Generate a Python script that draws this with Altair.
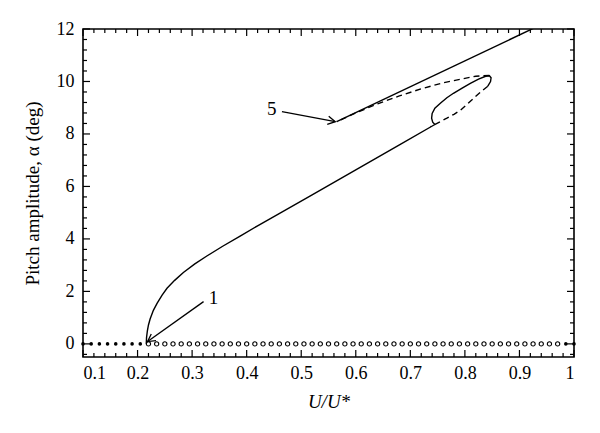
import altair as alt
import pandas as pd

# ---------------- data ----------------
# stable branch rising from the bifurcation point (solid)
main_x = [0.216, 0.2165, 0.218, 0.220, 0.223, 0.229, 0.236, 0.245, 0.254, 0.268,
          0.284, 0.305, 0.327, 0.356, 0.388, 0.420, 0.462, 0.52, 0.60, 0.68, 0.745]
main_y = [0.0, 0.25, 0.5, 0.72, 0.95, 1.28, 1.55, 1.86, 2.12, 2.42,
          2.72, 3.05, 3.35, 3.72, 4.11, 4.5, 4.99, 5.68, 6.63, 7.58, 8.36]

# closed loop near U/U* = 0.74-0.85 : solid part
loop_s_x = [0.745, 0.741, 0.739, 0.740, 0.745, 0.755, 0.767, 0.779, 0.795, 0.81,
            0.825, 0.838, 0.845, 0.848, 0.847, 0.842]
loop_s_y = [8.36, 8.45, 8.6, 8.78, 8.98, 9.17, 9.38, 9.55, 9.75, 9.93,
            10.09, 10.2, 10.22, 10.14, 10.0, 9.82]
# closed loop : dashed part
loop_d_x = [0.842, 0.83, 0.819, 0.805, 0.792, 0.78, 0.767, 0.755, 0.743, 0.737]
loop_d_y = [9.82, 9.62, 9.42, 9.15, 8.91, 8.75, 8.6, 8.47, 8.34, 8.28]

# upper unstable branch (dashed)
upper_d_x = [0.845, 0.82, 0.80, 0.76, 0.72, 0.68, 0.64, 0.60, 0.565]
upper_d_y = [10.23, 10.2, 10.12, 9.95, 9.72, 9.45, 9.15, 8.8, 8.47]

# upper stable branch (solid)
upper_s_x = [0.565, 0.93]
upper_s_y = [8.47, 12.07]

# trivial equilibrium at alpha = 0 : stable (filled) / unstable (open)
stable0_x = [0.1, 0.115, 0.13, 0.145, 0.16, 0.175, 0.19, 0.205, 0.985, 1.0]
unstable0_x = [0.22, 0.235, 0.25, 0.265, 0.28, 0.295, 0.31, 0.325, 0.34, 0.355,
               0.37, 0.385, 0.4, 0.415, 0.43, 0.445, 0.46, 0.475, 0.49, 0.505,
               0.52, 0.535, 0.55, 0.565, 0.58, 0.595, 0.61, 0.625, 0.64, 0.655,
               0.67, 0.685, 0.7, 0.715, 0.73, 0.745, 0.76, 0.775, 0.79, 0.805,
               0.82, 0.835, 0.85, 0.865, 0.88, 0.895, 0.91, 0.925, 0.94, 0.955,
               0.97]

# annotations
label_text = ["1", "5"]
label_x = [0.339, 0.446]
label_y = [1.74, 8.94]
arrow_x0 = [0.321, 0.4647]
arrow_y0 = [1.61, 8.85]
arrow_x1 = [0.2184, 0.5624]
arrow_y1 = [0.088, 8.47]
arrow_angle = [144.5, 10.6]

# axis ticks
x_major = [0.1, 0.2, 0.3, 0.4, 0.5, 0.6, 0.7, 0.8, 0.9, 1.0]
y_major = [0, 2, 4, 6, 8, 10, 12]
x_minor = [round(0.1 + 0.02 * i, 2) for i in range(46) if i % 5 != 0]
y_minor = [round(-0.4 + 0.4 * i, 1) for i in range(31) if (i - 1) % 5 != 0]

# ---------------- chart ----------------
W, H = 491, 328
FONT = "Liberation Serif"

xscale = alt.Scale(domain=[0.1, 1.0], nice=False, zero=False)
yscale = alt.Scale(domain=[-0.5, 12], nice=False, zero=False)

x_axis = alt.Axis(values=x_major, format="~g", title="U/U*", grid=False, ticks=False,
                  domain=False, labelFont=FONT, labelFontSize=18, labelPadding=7,
                  labelColor="black", titleFont=FONT, titleFontSize=19,
                  titleFontStyle="italic", titleFontWeight="normal", titleColor="black",
                  titlePadding=10)
y_axis = alt.Axis(values=y_major, format="d", title="Pitch amplitude, α (deg)", grid=False,
                  ticks=False, domain=False, labelFont=FONT, labelFontSize=18,
                  labelPadding=9, labelColor="black", titleFont=FONT, titleFontSize=19,
                  titleFontWeight="normal", titleColor="black", titlePadding=14)


def X(field):
    return alt.X(field, scale=xscale, axis=x_axis)


def Y(field):
    return alt.Y(field, scale=yscale, axis=y_axis)


def seq(xs, ys):
    return pd.DataFrame({"x": xs, "y": ys, "i": list(range(len(xs)))})


def line(xs, ys, dash=None):
    kw = dict(color="black", strokeWidth=1.4, clip=True)
    if dash:
        kw["strokeDash"] = dash
    return alt.Chart(seq(xs, ys)).mark_line(**kw).encode(
        x=X("x:Q"), y=Y("y:Q"), order="i:Q")


layers = [
    line(main_x, main_y),
    line(loop_s_x, loop_s_y),
    line(loop_d_x, loop_d_y, dash=[6, 4]),
    line(upper_d_x, upper_d_y, dash=[6, 4]),
    line(upper_s_x, upper_s_y),
]

zero_open = alt.Chart(pd.DataFrame({"x": unstable0_x, "y": [0] * len(unstable0_x)})).mark_point(
    shape="circle", filled=False, color="black", size=18, strokeWidth=1.1, opacity=1
).encode(x=X("x:Q"), y=Y("y:Q"))
zero_fill = alt.Chart(pd.DataFrame({"x": stable0_x, "y": [0] * len(stable0_x)})).mark_circle(
    color="black", size=13, opacity=1
).encode(x=X("x:Q"), y=Y("y:Q"))
layers += [zero_open, zero_fill]

# arrows
arr = pd.DataFrame({"x0": arrow_x0, "y0": arrow_y0, "x1": arrow_x1, "y1": arrow_y1,
                    "ang": arrow_angle, "t": label_text, "lx": label_x, "ly": label_y})
shafts = alt.Chart(arr).mark_rule(color="black", strokeWidth=1.3).encode(
    x=X("x0:Q"), y=Y("y0:Q"), x2="x1:Q", y2="y1:Q")
heads = alt.Chart(arr).mark_point(
    shape="M -1 -0.55 L 0 0 L -1 0.55", filled=False, color="black", strokeWidth=1.3,
    size=220, opacity=1
).encode(x=X("x1:Q"), y=Y("y1:Q"), angle=alt.Angle("ang:Q", scale=None))
labels = alt.Chart(arr).mark_text(font=FONT, fontSize=19, color="black").encode(
    x=X("lx:Q"), y=Y("ly:Q"), text="t:N")
layers += [shafts, heads, labels]


# inward ticks on all four sides
def xticks(vals, L, top):
    y0, y1 = (0, L) if top else (H, H - L)
    return alt.Chart(pd.DataFrame({"v": vals})).mark_rule(color="black", strokeWidth=1.2).encode(
        x=X("v:Q"), y=alt.value(y0), y2=alt.value(y1))


def yticks(vals, L, right):
    x0, x1 = (W, W - L) if right else (0, L)
    return alt.Chart(pd.DataFrame({"v": vals})).mark_rule(color="black", strokeWidth=1.2).encode(
        y=Y("v:Q"), x=alt.value(x0), x2=alt.value(x1))


for top in (False, True):
    layers.append(xticks(x_major, 7, top))
    layers.append(xticks(x_minor, 4, top))
for right in (False, True):
    layers.append(yticks(y_major, 7, right))
    layers.append(yticks(y_minor, 4, right))

chart = alt.layer(*layers).properties(
    width=W, height=H, autosize="none",
    padding={"left": 75, "top": 21, "right": 18, "bottom": 68},
).configure_view(
    stroke="black", strokeWidth=1.6
).configure_axis(
    labelFont=FONT, labelFontSize=18, labelColor="black",
    titleFont=FONT, titleFontSize=19, titleFontWeight="normal", titleColor="black",
)

chart.save("out.html", embed_options={"renderer": "svg", "actions": False})
